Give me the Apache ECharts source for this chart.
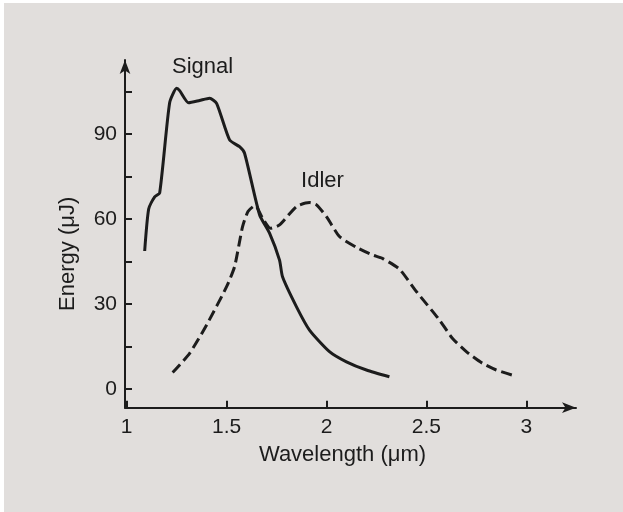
<!DOCTYPE html>
<html>
<head>
<meta charset="utf-8">
<script src="https://cdn.jsdelivr.net/npm/echarts@6/dist/echarts.min.js"></script>
<style>
  html, body { margin: 0; padding: 0; background: #ffffff; }
  #bg { position: absolute; left: 4px; top: 3px; right: 0; bottom: 0; background: #e1dedc; }
  #chart { position: absolute; left: 0; top: 0; width: 623px; height: 512px; }
</style>
</head>
<body>
<div id="bg"></div>
<div id="chart"></div>
<script>
// Signal curve (wavelength in µm, energy in µJ)
const signalX = [1.09, 1.11, 1.14, 1.165, 1.215, 1.25, 1.265, 1.31, 1.365, 1.415, 1.45, 1.515, 1.565, 1.59,
                 1.665, 1.715, 1.765, 1.78, 1.85, 1.915, 2.015, 2.1, 2.2, 2.315];
const signalY = [48.7, 63.5, 67.8, 69.2, 101, 106.1, 105.3, 101, 101.8, 102.6, 100.8, 87.9, 85.5, 83.2,
                 61.5, 55, 45.5, 39.6, 29, 20.8, 13.2, 9.6, 6.7, 4.3];

// Idler curve
const idlerX = [1.23, 1.315, 1.4, 1.5, 1.54, 1.58, 1.607, 1.64, 1.65, 1.68, 1.72, 1.765, 1.85, 1.915, 1.95,
                2.0, 2.065, 2.15, 2.23, 2.28, 2.365, 2.45, 2.565, 2.63, 2.7, 2.78, 2.85, 2.93];
const idlerY = [5.8, 12.6, 22.6, 36.1, 43.2, 57.3, 62.6, 64.6, 64.4, 60.3, 56.7, 57.9, 64.4, 65.8, 65,
                60.8, 53.8, 50, 47.3, 46.1, 42.3, 34.4, 24.4, 17.9, 13.2, 9.1, 6.7, 4.9];

// Ticks and labels
const xTicks = [1, 1.5, 2, 2.5, 3];
const yLabels = [0, 30, 60, 90];
const yTicks = [0, 15, 30, 45, 60, 75, 90, 105];

// Curve annotations [x, y, text]
const curveNames = [[1.38, 113.6, 'Signal'], [1.98, 73.4, 'Idler']];

const ink = '#1c1c1c';
const fontFamily = 'Liberation Sans, Arial, sans-serif';

const chart = echarts.init(document.getElementById('chart'), null, { renderer: 'canvas' });

function pairs(xs, ys) {
    return xs.map((x, i) => [x, ys[i]]);
}

const option = {
    backgroundColor: 'transparent',
    animation: false,
    grid: { left: 125, top: 60, right: 47, bottom: 104.3 },
    xAxis: {
        type: 'value',
        min: 0.9915,
        max: 3.249,
        name: 'Wavelength (\u03bcm)',
        nameLocation: 'middle',
        nameGap: 36,
        nameTextStyle: { color: ink, fontSize: 22, fontFamily: fontFamily, padding: [0, 16, 0, 0] },
        axisLine: {
            onZero: false,
            lineStyle: { color: ink, width: 2 },
            symbol: ['none', 'arrow'],
            symbolSize: [8, 14]
        },
        axisTick: { inside: true, length: 7, lineStyle: { color: ink, width: 2 }, customValues: xTicks },
        axisLabel: { color: ink, fontSize: 21, fontFamily: fontFamily, margin: 9, customValues: xTicks },
        splitLine: { show: false }
    },
    yAxis: {
        type: 'value',
        min: -6.6,
        max: 116.1,
        name: 'Energy (\u03bcJ)',
        nameLocation: 'middle',
        nameGap: 46,
        nameTextStyle: { color: ink, fontSize: 22, fontFamily: fontFamily, padding: [0, 40, 0, 0] },
        axisLine: {
            onZero: false,
            lineStyle: { color: ink, width: 2 },
            symbol: ['none', 'arrow'],
            symbolSize: [8, 14]
        },
        axisTick: { inside: true, length: 7, lineStyle: { color: ink, width: 2 }, customValues: yTicks },
        axisLabel: { color: ink, fontSize: 21, fontFamily: fontFamily, margin: 8, customValues: yLabels },
        splitLine: { show: false }
    },
    series: [
        {
            name: 'Signal',
            type: 'line',
            data: pairs(signalX, signalY),
            showSymbol: false,
            smooth: 0.2,
            lineStyle: { color: ink, width: 3 },
            markPoint: {
                symbol: 'circle',
                symbolSize: 0,
                label: { show: true, position: 'inside', color: ink, fontSize: 22, fontFamily: fontFamily,
                         formatter: p => p.name },
                data: curveNames.map(c => ({ name: c[2], coord: [c[0], c[1]] }))
            }
        },
        {
            name: 'Idler',
            type: 'line',
            data: pairs(idlerX, idlerY),
            showSymbol: false,
            smooth: 0.2,
            lineStyle: { color: ink, width: 3, type: [11, 5] }
        }
    ]
};

chart.setOption(option);
</script>
</body>
</html>
